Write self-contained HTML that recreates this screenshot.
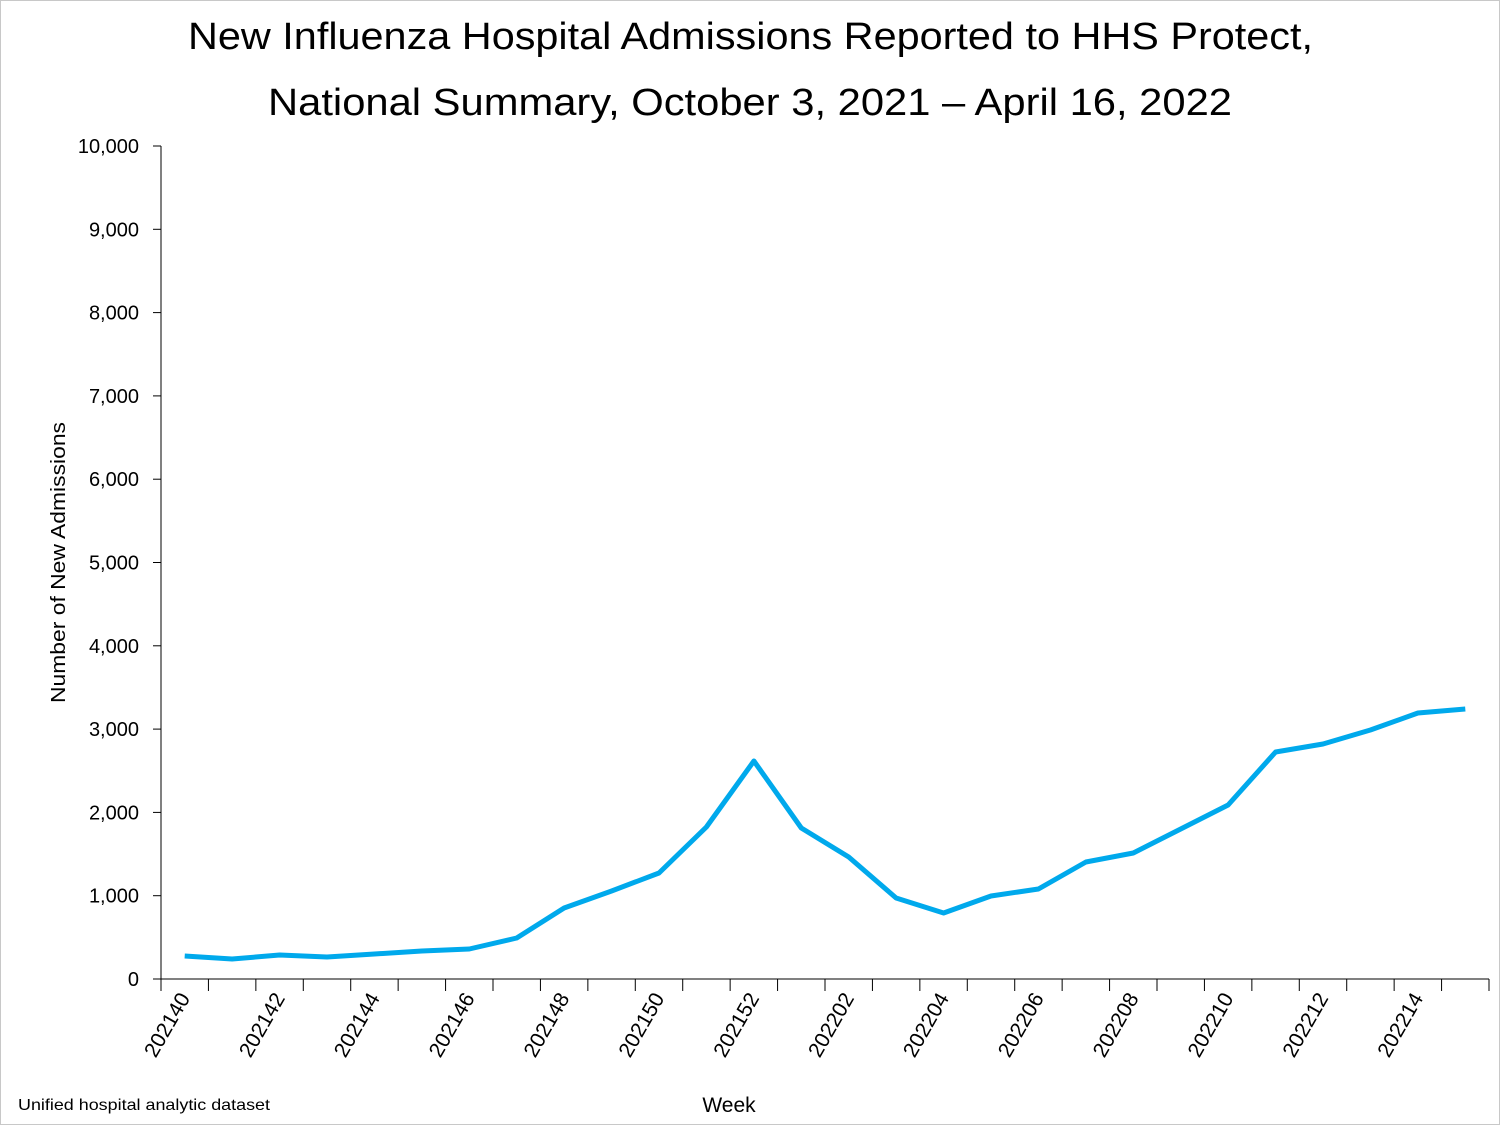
<!DOCTYPE html>
<html><head><meta charset="utf-8"><style>
html,body{margin:0;padding:0;background:#fff;}
svg{display:block;font-family:"Liberation Sans",Calibri,sans-serif;}
</style></head><body>
<svg width="1500" height="1125" viewBox="0 0 1500 1125" xmlns="http://www.w3.org/2000/svg">
<rect x="0.5" y="0.5" width="1499" height="1124" fill="#fff" stroke="#c8c8c8"/>
<text x="188" y="49" font-size="38" textLength="1125" lengthAdjust="spacingAndGlyphs" fill="#000">New Influenza Hospital Admissions Reported to HHS Protect,</text>
<text x="268" y="115" font-size="38" textLength="964" lengthAdjust="spacingAndGlyphs" fill="#000">National Summary, October 3, 2021 – April 16, 2022</text>
<g stroke="#000" stroke-width="1">
<line x1="161" y1="146" x2="161" y2="979"/>
<line x1="161" y1="979" x2="1489" y2="979"/>
</g>
<g id="yt" stroke="#000" stroke-width="1"></g>
<g id="yl" font-size="20" text-anchor="end" fill="#000"></g>
<g id="xt" stroke="#000" stroke-width="1"></g>
<g id="xl" font-size="21" text-anchor="end" fill="#000"></g>
<text transform="translate(65,703) rotate(-90)" font-size="20" textLength="281" lengthAdjust="spacingAndGlyphs">Number of New Admissions</text>
<text x="729" y="1112" text-anchor="middle" font-size="21">Week</text>
<text x="18" y="1110" font-size="16" textLength="252" lengthAdjust="spacingAndGlyphs">Unified hospital analytic dataset</text>
<polyline id="ln" fill="none" stroke="#00a9ec" stroke-width="5" stroke-linejoin="round"/>
<script>
var ns="http://www.w3.org/2000/svg";
function el(p,t,a,txt){var e=document.createElementNS(ns,t);for(var k in a)e.setAttribute(k,a[k]);if(txt)e.textContent=txt;document.getElementById(p).appendChild(e);}
for(var i=0;i<=10;i++){var y=979-i*83.3;el("yt","line",{x1:153,x2:161,y1:y,y2:y});el("yl","text",{x:139,y:y+7},i==0?"0":(i*1000).toLocaleString("en-US"));}
var w=1328/28;
for(var i=0;i<=28;i++){var x=161+i*w;el("xt","line",{x1:x,x2:x,y1:979,y2:991});}
var labs=["202140","202142","202144","202146","202148","202150","202152","202202","202204","202206","202208","202210","202212","202214"];
for(var j=0;j<14;j++){var x=161+(2*j+0.5)*w+6;el("xl","text",{transform:"translate("+x+",998) rotate(-60)"},labs[j]);}
var ys=[956,959,955,957,954,951,949,938,908,891,873,827,761,828,857,898,913,896,889,862,853,829,805,752,744,730,713,709];
var pts=ys.map(function(y,i){return (161+(i+0.5)*w).toFixed(1)+","+y;}).join(" ");
document.getElementById("ln").setAttribute("points",pts);
</script>
</svg>
</body></html>
